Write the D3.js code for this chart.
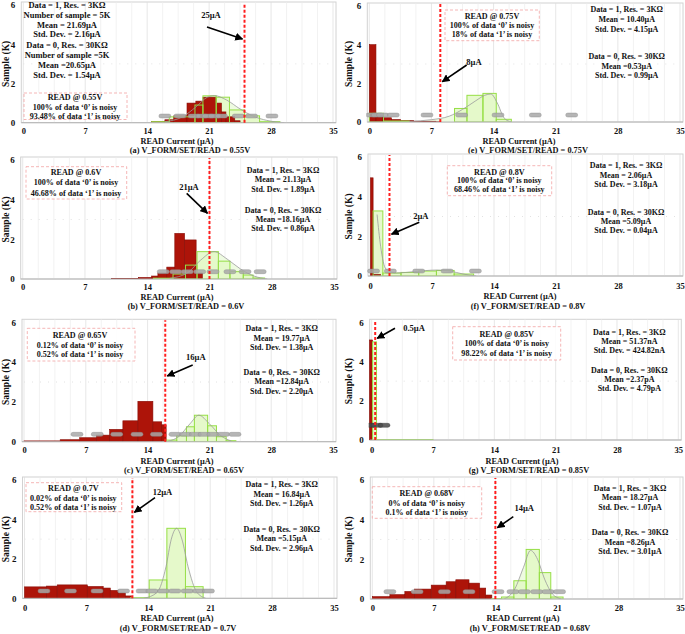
<!DOCTYPE html>
<html><head><meta charset="utf-8">
<script src="https://cdn.jsdelivr.net/npm/d3@7"></script>
<style>
body{margin:0;background:#fff}
text{font-family:"Liberation Serif","Times New Roman",serif;font-weight:bold;fill:#111}
</style>
</head><body>
<svg id="chart" width="685" height="634"></svg>
<script>
// ---------------- DATA ----------------
const xTicks = [0, 7, 14, 21, 28, 35];
const yTicks = [0, 2, 4, 6];
const xTitle = "READ Current (µA)";
const yTitle = "Sample (K)";
const panelIds = ["a","b","c","d","e","f","g","h"];
const captions = [
  "(a) V_FORM/SET/READ = 0.55V",
  "(b) V_FORM/SET/READ = 0.6V",
  "(c) V_FORM/SET/READ = 0.65V",
  "(d) V_FORM/SET/READ  = 0.7V",
  "(e) V_FORM/SET/READ  = 0.75V",
  "(f) V_FORM/SET/READ  = 0.8V",
  "(g) V_FORM/SET/READ = 0.85V",
  "(h) V_FORM/SET/READ = 0.68V"
];
const thresholds = [25, 21, 16, 12.2, 8, 2.2, 0.4, 14];
const thresholdLabels = ["25µA","21µA","16µA","12µA","8µA","2µA","0.5µA","14µA"];

// histogram bins: [from µA, to µA, samples (K)]
const redA = [[14.5,16,0.06],[16,17,0.15],[17,18.5,0.35],[18.5,19.5,1.0],[19.5,20.3,1.1],[20.3,21.8,1.3],[21.8,22.4,1.0],[22.4,22.9,0.55],[22.9,23.9,0.3],[23.9,24.5,0.1]];
const greenA = [[14.5,16.5,0.05],[16.5,19.4,0.3],[19.4,20.3,0.9],[20.3,21.8,1.37],[21.8,23.3,1.3],[23.3,25,0.65],[25,26.7,0.35],[26.7,29,0.05]];
const curveA = [[16,0.05],[18,0.3],[19.5,0.8],[20.8,1.3],[21.6,1.38],[23,1.15],[24.5,0.7],[26,0.33],[27.5,0.12],[29.5,0]];
const pillsA = [16.0,17.7,19.3,20.2,20.9,21.6,22.4,24.3,25.8,28.1];

const redB = [[10,13,0.03],[13,14.5,0.08],[14.5,15.2,0.15],[15.2,16.2,0.3],[16.2,17.1,0.6],[17.1,18.2,2.3],[18.2,19.5,1.97],[19.5,20.2,0.3]];
const greenB = [[14.7,16.9,0.04],[16.9,18.3,0.25],[18.3,19.6,0.7],[19.6,22,1.38],[22,23.3,0.9],[23.3,24.8,0.37],[24.8,25.9,0.2],[25.9,27.2,0.05]];
const curveB = [[16.5,0.03],[18.5,0.3],[20,0.95],[21.5,1.38],[23,1.0],[24.5,0.5],[26,0.15],[27.5,0]];
const pillsB = [15.8,17.2,18.5,19.9,21.4,23.3,25.0,26.7];

const redC = [[0,4.1,0.04],[4.1,6.3,0.1],[6.3,8.2,0.2],[8.2,9.7,0.33],[9.7,11.2,0.62],[11.2,12.9,1.05],[12.9,14.6,2.03],[14.6,15.6,1.0],[15.6,16.1,0.85]];
const greenC = [[16,17.3,0.08],[17.3,18.4,0.3],[18.4,19.3,0.75],[19.3,20.8,1.33],[20.8,21.8,0.8],[21.8,22.9,0.25],[22.9,24,0.05]];
const curveC = [[16.3,0.02],[17.5,0.25],[18.8,0.9],[19.8,1.33],[21,0.9],[22.3,0.3],[23.5,0.03]];
const pillsC = [6.0,8.3,10.5,12.8,15.0,17.1,18.3,19.4,20.4,21.4,22.6,23.9];

const redD = [[0,2.5,0.58],[2.5,3.7,0.62],[3.7,7.1,0.68],[7.1,8.9,0.6],[8.9,9.7,0.52],[9.7,10.6,0.4],[10.6,11.4,0.27],[11.4,12.1,0.12]];
const greenD = [[12,14.1,0.03],[14.1,16.1,0.93],[16.1,18.2,3.55],[18.2,20.2,0.59]];
const curveD = [[13.5,0],[15,0.3],[16,1.6],[16.6,3.0],[17.2,3.55],[17.8,3.0],[18.5,1.6],[19.5,0.3],[20.5,0]];
const pillsD = [2.2,5.2,8.2,11.2,13.3,14.4,15.7,17.0,18.4,19.7,20.8];

const redE = [[0,0.75,4.0],[0.75,1.5,0.35],[1.5,2.5,0.22],[2.5,3.5,0.13],[3.5,5,0.08],[5,7.5,0.04],[7.5,8,0.01]];
const greenE = [[0,1.6,0.45],[1.6,4.5,0.05],[9.6,11,0.7],[11,12.8,1.38],[12.8,14.3,1.48],[14.3,16,0.14]];
const curveE = [[4.5,0.03],[7,0.12],[9,0.3],[10.5,0.65],[12,1.1],[13,1.38],[13.7,1.45],[14.4,1.0],[15.2,0.2],[16,0]];
const pillsE = [0.3,0.9,1.5,2.7,6.5,10.4,14.5,18.7,22.8];

const redF = [[0.05,0.35,4.95],[0.35,1.2,0.08]];
const greenF = [[0.35,1.45,3.28],[1.45,3.5,0.15],[3.5,5.5,0.18],[5.5,7.5,0.25],[7.5,9.5,0.28],[9.5,11.7,0.1]];
const curveF = [[0.8,3.1],[1.2,1.5],[1.8,0.35],[3,0.15],[5,0.22],[7.5,0.3],[9,0.25],[10.5,0.1],[12,0]];
const pillsF = [0.4,2.3,5.5,8.7,11.9];

const redG = [[-0.25,0.1,5.1]];
const greenG = [[0.1,0.55,5.0],[0.55,7,0.02]];
const curveG = [];
const pillsG = [-0.2,0.6,1.4];

const redH = [[0,2,0.12],[2,3.7,0.22],[3.7,4.8,0.38],[4.8,6.7,0.5],[6.7,8.4,0.7],[8.4,9.5,0.87],[9.5,11,0.97],[11,12.2,0.8],[12.2,12.9,0.55],[12.9,13.6,0.2]];
const greenH = [[13.6,14.7,0.02],[14.7,16.1,0.1],[16.1,17.5,0.92],[17.5,19,2.5],[19,20.3,1.33],[20.3,21.7,0.1]];
const curveH = [[15,0],[16.2,0.5],[17.2,1.6],[18,2.45],[18.8,2.0],[19.6,1.0],[20.5,0.25],[21.5,0]];
const pillsH = [2.0,5.1,8.2,11.0,14.3,16.0,17.3,18.7,20.0,21.3];

const pillLevels = [0.34,0.37,0.37,0.37,0.36,0.25,0.75,0.37];

const readBoxTexts = [
  ["READ @ 0.55V","100% of data ‘0’ is noisy","93.48% of data ‘1’ is noisy"],
  ["READ @ 0.6V","100% of data ‘0’ is noisy","46.68% of data ‘1’ is noisy"],
  ["READ @ 0.65V","0.12% of data ‘0’ is noisy","0.52% of data ‘1’ is noisy"],
  ["READ @ 0.7V","0.02% of data ‘0’ is noisy","0.52% of data ‘1’ is noisy"],
  ["READ @ 0.75V","100% of data ‘0’ is noisy","18% of data ‘1’ is noisy"],
  ["READ @ 0.8V","100% of data ‘0’ is noisy","68.46% of data ‘1’ is noisy"],
  ["READ @ 0.85V","100% of data ‘0’ is noisy","98.22% of data ‘1’ is noisy"],
  ["READ @ 0.68V","0% of data ‘0’ is noisy","0.1% of data ‘1’ is noisy"]
];
const stats1Texts = [
  ["Data = 1, Res. = 3KΩ","Number of sample = 5K","Mean = 21.69µA","Std. Dev. = 2.16µA"],
  ["Data = 1, Res. = 3KΩ","Mean = 21.13µA","Std. Dev. = 1.89µA"],
  ["Data = 1, Res. = 3KΩ","Mean = 19.77µA","Std. Dev. = 1.38µA"],
  ["Data = 1, Res. = 3KΩ","Mean = 16.84µA","Std. Dev. = 1.26µA"],
  ["Data = 1, Res. = 3KΩ","Mean = 10.40µA","Std. Dev. = 4.15µA"],
  ["Data = 1, Res. = 3KΩ","Mean = 2.06µA","Std. Dev. = 3.18µA"],
  ["Data = 1, Res. = 3KΩ","Mean = 51.37nA","Std. Dev. = 424.82nA"],
  ["Data = 1, Res. = 3KΩ","Mean = 18.27µA","Std. Dev. = 1.07µA"]
];
const stats0Texts = [
  ["Data = 0, Res. = 30KΩ","Number of sample =5K","Mean =20.65µA","Std. Dev. = 1.54µA"],
  ["Data = 0, Res. = 30KΩ","Mean =18.16µA","Std. Dev. = 0.86µA"],
  ["Data = 0, Res. = 30KΩ","Mean =12.84µA","Std. Dev. = 2.20µA"],
  ["Data = 0, Res. = 30KΩ","Mean =5.15µA","Std. Dev. = 2.96µA"],
  ["Data = 0, Res. = 30KΩ","Mean =0.53µA","Std. Dev. = 0.99µA"],
  ["Data = 0, Res. = 30KΩ","Mean =5.09µA","Std. Dev. = 0.04µA"],
  ["Data = 0, Res. = 30KΩ","Mean =2.37pA","Std. Dev. = 4.79pA"],
  ["Data = 0, Res. = 30KΩ","Mean =8.26µA","Std. Dev. = 3.01µA"]
];

const reds = [redA,redB,redC,redD,redE,redF,redG,redH];
const greens = [greenA,greenB,greenC,greenD,greenE,greenF,greenG,greenH];
const curves = [curveA,curveB,curveC,curveD,curveE,curveF,curveG,curveH];
const pills = [pillsA,pillsB,pillsC,pillsD,pillsE,pillsF,pillsG,pillsH];

// ---------------- LAYOUT (pixels) ----------------
const layouts = [
 {fs:8.5,x:[23.3,333],y:[122.7,5],s1:{cx:67,y:[5,15,25,34.5]},s0:{cx:67,y:[45.5,55.5,65.5,75]},box:[24,93,127,119.5],bt:{cx:75,y:[97,107,116.5]},arr:[207,27,39],lab:[211,15.5],cap:[190,150],title:[177,141],tickY:131.5,yl:6},
 {fs:8,x:[22.7,334],y:[279,160],s1:{cx:283,y:[170,179.5,189]},s0:{cx:283,y:[210,219.3,228.5]},box:[26,166.7,126.7,199],bt:{cx:76,y:[172.3,182.5,193]},arr:[186.7,193.3,213.3],lab:[189,186.7],cap:[186,306.5],title:[177,297.5],tickY:287,yl:6},
 {fs:8,x:[24,333],y:[441.7,322.3],s1:{cx:281.7,y:[328.3,337.7,347.3]},s0:{cx:281.7,y:[371.7,381,390.7]},box:[27.3,328.3,135,361],bt:{cx:80,y:[335,345,354.5]},arr:[192.7,365,376],lab:[195.8,356.7],cap:[184,470],title:[177,461],tickY:450,yl:6},
 {fs:8,x:[24.5,334],y:[598.3,480],s1:{cx:281.7,y:[484.3,494,503.3]},s0:{cx:281.7,y:[529,538.3,547.7]},box:[26,482.7,121.7,511.7],bt:{cx:73.3,y:[488.3,497.7,506.7]},arr:[155,497.7,512.3],lab:[162.5,491.7],cap:[178,628],title:[177,618],tickY:608,yl:6},
 {fs:8,x:[369.3,680],y:[122,6],s1:{cx:626.7,y:[9.3,19,28.7]},s0:{cx:626.7,y:[56,65.7,75]},box:[445,10,539.3,40.7],bt:{cx:492,y:[15.7,25,34.3]},arr:[466.7,65,81.7],lab:[474,61.7],cap:[528,150],title:[519,141],tickY:131.5,yl:349},
 {fs:8,x:[370,680],y:[276,157],s1:{cx:626,y:[165,175,184.3]},s0:{cx:626,y:[211.7,221,230]},box:[447.3,165.7,551.7,195.7],bt:{cx:499.3,y:[171.7,180.5,189.3]},arr:[419.3,222.3,234.3],lab:[420.8,215.7],cap:[528,306.5],title:[520,296.5],tickY:286,yl:349},
 {fs:8,x:[371.7,678.3],y:[440,322.3],s1:{cx:629.3,y:[331.7,340.7,350]},s0:{cx:629.3,y:[370,379.3,388.3]},box:[452.7,326.7,560.7,360],bt:{cx:506.7,y:[334,343.3,352.7]},arr:[395,328.3,338.3],lab:[414,328.3],cap:[529,470],title:[522,461],tickY:450,yl:349},
 {fs:8,x:[372.3,680],y:[599,480],s1:{cx:630,y:[487.7,497.3,506.7]},s0:{cx:630,y:[531.7,541.7,551]},box:[372.3,486.7,481.7,518.3],bt:{cx:426.7,y:[492.7,502.7,511.7]},arr:[513.3,516.7,527.7],lab:[524.2,508.3],cap:[530,628],title:[523,618.5],tickY:608.5,yl:349}
];

// ---------------- DRAW ----------------
const svg = d3.select("#chart");
const defs = svg.append("defs");
defs.append("marker").attr("id","ah").attr("viewBox","0 0 10 10").attr("refX",9).attr("refY",5)
  .attr("markerWidth",5).attr("markerHeight",5).attr("orient","auto")
  .append("path").attr("d","M0,0 L10,5 L0,10 z").attr("fill","#000");

const RED="#ad1409", RED_S="#870c05", GFILL="#e3f8c8", GSTROKE="#96df45", GAREA="#eefbe1";

panelIds.forEach((id,i)=>{
  const L = layouts[i];
  const xs = d3.scaleLinear().domain([0,35]).range(L.x);
  const ys = d3.scaleLinear().domain([0,6]).range(L.y);
  const g = svg.append("g").attr("class","panel-"+id);

  // frame
  g.append("rect").attr("x",L.x[0]-2).attr("y",L.y[1]-3)
    .attr("width",L.x[1]-L.x[0]+5).attr("height",L.y[0]-L.y[1]+3)
    .attr("fill","#fff").attr("stroke","#d2d2d2").attr("stroke-width",1);

  // vertical grid
  const gridVals = d3.range(0,35.01,1.75);
  g.selectAll(".vg").data(gridVals).join("line")
    .attr("x1",d=>xs(d)).attr("x2",d=>xs(d)).attr("y1",L.y[0]).attr("y2",L.y[1]-3)
    .attr("stroke",d=>d%7===0?"#dddddd":"#ececec").attr("stroke-width",0.7);
  // faint dotted horizontal line
  g.append("line").attr("x1",xs(0)).attr("x2",xs(35)).attr("y1",ys(3)).attr("y2",ys(3))
    .attr("stroke","#e2e2e2").attr("stroke-dasharray","1,7").attr("stroke-width",1);

  const clipId="clip"+id;
  defs.append("clipPath").attr("id",clipId).append("rect")
    .attr("x",L.x[0]-3).attr("y",L.y[1]-3).attr("width",L.x[1]-L.x[0]+6).attr("height",L.y[0]-L.y[1]+3);
  const pg = g.append("g").attr("clip-path",`url(#${clipId})`);

  const cv = curves[i];
  if(cv.length){
    pg.append("path").datum(cv)
      .attr("d",d3.area().x(d=>xs(d[0])).y0(ys(0)).y1(d=>ys(d[1])).curve(d3.curveMonotoneX))
      .attr("fill",GAREA);
  }
  pg.selectAll(".gb").data(greens[i]).join("rect")
    .attr("x",d=>xs(d[0])).attr("width",d=>xs(d[1])-xs(d[0]))
    .attr("y",d=>ys(d[2])).attr("height",d=>ys(0)-ys(d[2]))
    .attr("fill",GFILL).attr("fill-opacity",0.9);
  pg.selectAll(".rb").data(reds[i]).join("rect")
    .attr("x",d=>xs(d[0])).attr("width",d=>xs(d[1])-xs(d[0]))
    .attr("y",d=>ys(d[2])).attr("height",d=>ys(0)-ys(d[2]))
    .attr("fill",RED).attr("stroke",RED_S).attr("stroke-width",0.6);
  pg.selectAll(".go").data(greens[i]).join("rect")
    .attr("x",d=>xs(d[0])).attr("width",d=>xs(d[1])-xs(d[0]))
    .attr("y",d=>ys(d[2])).attr("height",d=>ys(0)-ys(d[2]))
    .attr("fill","none").attr("stroke",GSTROKE).attr("stroke-width",1);
  if(cv.length){
    pg.append("path").datum(cv)
      .attr("d",d3.line().x(d=>xs(d[0])).y(d=>ys(d[1])).curve(d3.curveMonotoneX))
      .attr("fill","none").attr("stroke","#9a9a9a").attr("stroke-width",0.8);
  }
  const dark = id==="g";
  pg.selectAll(".pl").data(pills[i]).join("rect")
    .attr("x",d=>xs(d)-6).attr("y",ys(pillLevels[i])-2)
    .attr("width",12).attr("height",4).attr("rx",2)
    .attr("fill",dark?"#4a4a4a":"#a8a8a8").attr("stroke",dark?"#333":"#8c8c8c").attr("stroke-width",0.4)
    .attr("fill-opacity",0.85);

  g.append("line").attr("x1",L.x[0]-2).attr("x2",L.x[1]+3).attr("y1",L.y[0]).attr("y2",L.y[0])
    .attr("stroke","#b5b5b5").attr("stroke-width",1);

  const tx = xs(thresholds[i]);
  g.append("line").attr("x1",tx).attr("x2",tx).attr("y1",L.y[0]).attr("y2",L.y[1]-2)
    .attr("stroke","#ff1e1e").attr("stroke-width",2).attr("stroke-dasharray","3,2");

  const xAxis = d3.axisBottom(xs).tickValues(xTicks).tickFormat(d3.format("d")).tickSize(0).tickPadding(0);
  const xa = g.append("g").attr("transform",`translate(0,${L.tickY})`).call(xAxis);
  xa.select(".domain").remove();
  xa.selectAll("text").attr("dy","0.35em").attr("y",0).style("font-size","8.5px")
    .style("font-family","'Liberation Serif',serif").style("font-weight","bold").attr("fill","#111");
  const yAxis = d3.axisLeft(ys).tickValues(yTicks).tickFormat(d3.format("d")).tickSize(0).tickPadding(0);
  const ya = g.append("g").attr("transform",`translate(${L.x[0]-8},0)`).call(yAxis);
  ya.select(".domain").remove();
  ya.selectAll("text").style("font-size","9px").style("font-family","'Liberation Serif',serif")
    .style("font-weight","bold").attr("fill","#111");

  g.append("text").attr("x",L.title[0]).attr("y",L.title[1]).attr("dy","0.35em")
    .attr("text-anchor","middle").style("font-size","8.3px").text(xTitle);
  g.append("text").attr("transform",`translate(${L.yl},${(L.y[0]+L.y[1])/2}) rotate(-90)`)
    .attr("dy","0.35em").attr("text-anchor","middle").style("font-size","9.5px").text(yTitle);
  g.append("text").attr("x",L.cap[0]).attr("y",L.cap[1]).attr("dy","0.35em")
    .attr("text-anchor","middle").style("font-size","8.3px").text(captions[i]);

  g.append("line").attr("x1",L.arr[0]).attr("y1",L.arr[1]).attr("x2",tx+(L.arr[0]>tx?2:-2)).attr("y2",L.arr[2])
    .attr("stroke","#000").attr("stroke-width",1.6).attr("marker-end","url(#ah)");
  g.append("text").attr("x",L.lab[0]).attr("y",L.lab[1]).attr("dy","0.35em")
    .attr("text-anchor","middle").style("font-size","8.5px").text(thresholdLabels[i]);

  g.append("rect").attr("x",L.box[0]).attr("y",L.box[1]).attr("width",L.box[2]-L.box[0]).attr("height",L.box[3]-L.box[1])
    .attr("fill","#fff").attr("fill-opacity",0.85).attr("stroke","#f2a3a3").attr("stroke-width",0.8).attr("stroke-dasharray","3,2");
  readBoxTexts[i].forEach((t,k)=>{
    g.append("text").attr("x",L.bt.cx).attr("y",L.bt.y[k]).attr("dy","0.35em")
      .attr("text-anchor","middle").style("font-size","8.1px").text(t);
  });
  stats1Texts[i].forEach((t,k)=>{
    g.append("text").attr("x",L.s1.cx).attr("y",L.s1.y[k]).attr("dy","0.35em")
      .attr("text-anchor","middle").style("font-size",L.fs+"px").text(t);
  });
  stats0Texts[i].forEach((t,k)=>{
    g.append("text").attr("x",L.s0.cx).attr("y",L.s0.y[k]).attr("dy","0.35em")
      .attr("text-anchor","middle").style("font-size",L.fs+"px").text(t);
  });
});
</script>
</body></html>
